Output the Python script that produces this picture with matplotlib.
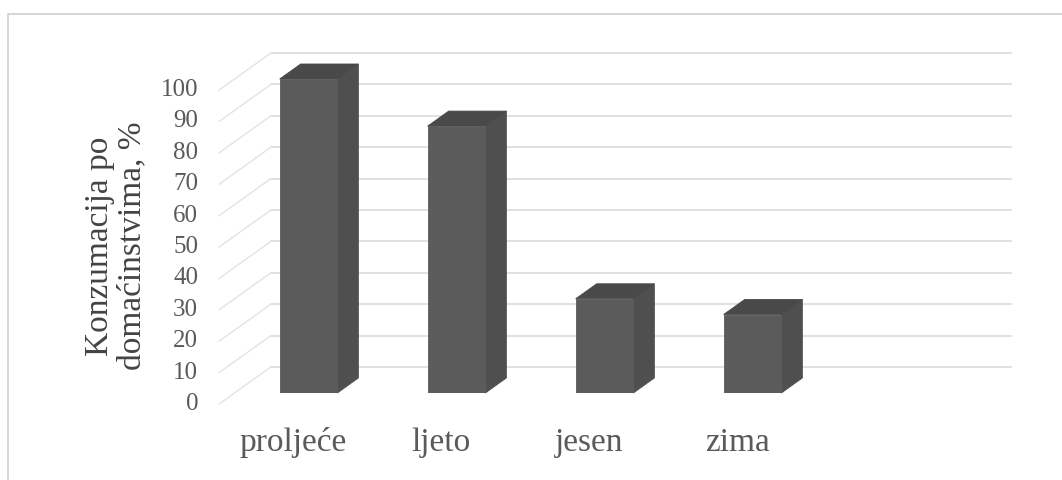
import matplotlib
matplotlib.use("Agg")
import matplotlib.pyplot as plt
from matplotlib.patches import Polygon, Rectangle

seasons = ["proljeće", "ljeto", "jesen", "zima"]
consumption = [100, 85, 30, 25]
y_ticks = [0, 10, 20, 30, 40, 50, 60, 70, 80, 90, 100]
y_title = "Konzumacija po\ndomaćinstvima, %"

plt.rcParams["font.family"] = ["Liberation Serif", "DejaVu Serif"]

W, H = 1062, 480
fig = plt.figure(figsize=(W / 100, H / 100), dpi=100)

# axes = front plane of the bars, in pixels
ax_left, ax_w = 234.5, 740
ax_bottom, ax_h = 87, 314
ax = fig.add_axes([ax_left / W, ax_bottom / H, ax_w / W, ax_h / H])
ax.set_xlim(-0.5, 4.5)
ax.set_ylim(0, 100)
ax.axis("off")

# pixel -> data units, and the oblique depth direction
ux = 5.0 / ax_w
uy = 100.0 / ax_h
slant = 1.4


def depth(d):
    # offset (in data units) for a depth of d pixels
    return slant * d * ux, d * uy


wall_dx, wall_dy = depth(26)
lab_dx, lab_dy = depth(-11)
bar_dx, bar_dy = depth(15)

grid_col = "#d9d9d9"
text_col = "#5a5a5a"

# back wall gridlines and side-wall slants
for v in y_ticks:
    ax.plot([-0.5 + wall_dx, 4.5 + wall_dx], [v + wall_dy, v + wall_dy],
            color=grid_col, lw=1.1, zorder=1, clip_on=False)
    ax.plot([-0.5 + lab_dx, -0.5 + wall_dx], [v + lab_dy, v + wall_dy],
            color="#e3e3e3", lw=1.0, zorder=1, clip_on=False)
    ax.text(-0.5 + lab_dx - 21 * ux, v + lab_dy, str(v), ha="right", va="center",
            fontsize=18, color=text_col, clip_on=False)

# 3d looking columns
bw = 0.39
hw = bw / 2
front_col, side_col, top_col = "#5b5b5b", "#4f4f4f", "#494949"
x = list(range(len(seasons)))
ax.bar(x, consumption, width=bw, color=front_col, ec=front_col, lw=0.6, zorder=3)
for xi, v in zip(x, consumption):
    side = [(xi + hw, 0), (xi + hw + bar_dx, bar_dy),
            (xi + hw + bar_dx, v + bar_dy), (xi + hw, v)]
    top = [(xi - hw, v), (xi + hw, v),
           (xi + hw + bar_dx, v + bar_dy), (xi - hw + bar_dx, v + bar_dy)]
    ax.add_patch(Polygon(side, closed=True, fc=side_col, ec=side_col, lw=0.6,
                         zorder=2.5, clip_on=False))
    ax.add_patch(Polygon(top, closed=True, fc=top_col, ec=top_col, lw=0.6,
                         zorder=2.5, clip_on=False))

# category labels sit on the front (label) plane
for xi, name in zip(x, seasons):
    ax.text(xi + lab_dx, lab_dy - 39 * uy, name, ha="center", va="center",
            fontsize=24, color=text_col, clip_on=False)

fig.text(116 / W, 1 - 246 / H, y_title, rotation=90, ha="center", va="center",
         fontsize=24, linespacing=1.08, color="#444444")

# outer chart frame (runs off the right and bottom of the scan)
fig.patches.append(Rectangle((8 / W, -0.1), 1.2, 1.1 - 14 / H, transform=fig.transFigure,
                             fill=False, ec="#d0d0d0", lw=1.2))

fig.savefig("out.png", dpi=100)
